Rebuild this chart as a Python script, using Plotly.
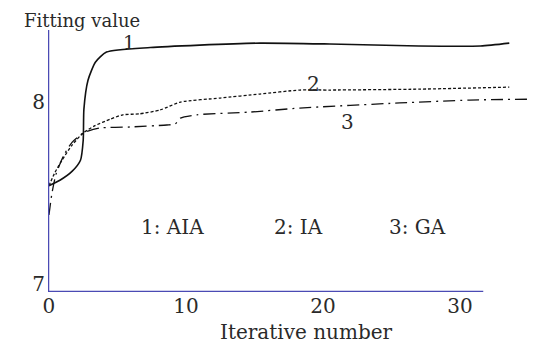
import plotly.graph_objects as go

# Curve 1: AIA (solid)
x_aia = [0, 0.8, 1.7, 2.3, 2.5, 2.55, 2.85, 3.4, 4.2, 7.4, 11, 15.4, 20.5, 27, 31.5, 33.6]
y_aia = [7.54, 7.57, 7.62, 7.68, 7.79, 7.96, 8.12, 8.22, 8.275, 8.30, 8.313, 8.324, 8.319, 8.308, 8.308, 8.324]

# Curve 2: IA (dotted)
x_ia = [0, 0.45, 0.95, 1.7, 2.5, 3.35, 4.45, 5.4, 6.6, 8.1, 9.6, 12.5, 15.4, 18.3, 20.5, 27.1, 33.6]
y_ia = [7.54, 7.615, 7.68, 7.765, 7.83, 7.87, 7.905, 7.93, 7.935, 7.956, 8.0, 8.022, 8.044, 8.066, 8.066, 8.071, 8.082]

# Curve 3: GA (dash-dot)
x_ga = [0, 0.2, 0.5, 1.1, 1.7, 2.5, 3.7, 5.9, 8.6, 9.2, 9.6, 10.8, 14.7, 18.3, 25.6, 30.7, 35.5]
y_ga = [7.38, 7.49, 7.60, 7.71, 7.78, 7.83, 7.857, 7.863, 7.874, 7.879, 7.912, 7.93, 7.945, 7.967, 7.995, 8.011, 8.016]

x_ticks = [0, 10, 20, 30]
y_ticks = [7, 8]
legend_texts = ["1: AIA", "2: IA", "3: GA"]

FONT = "DejaVu Serif, Liberation Serif, serif"
AXIS_COLOR = "#4a4ab4"
TXT = "#2a2a2a"
FS = 20

fig = go.Figure()
fig.add_trace(go.Scatter(x=x_aia, y=y_aia, mode="lines",
                         line=dict(color="#111111", width=1.6, shape="spline", smoothing=0.6)))
fig.add_trace(go.Scatter(x=x_ia, y=y_ia, mode="lines",
                         line=dict(color="#111111", width=1.3, dash="3px,2px", shape="spline", smoothing=0.6)))
fig.add_trace(go.Scatter(x=x_ga, y=y_ga, mode="lines",
                         line=dict(color="#111111", width=1.3, dash="12px,5px,2px,5px", shape="spline", smoothing=0.6)))

YB, YT = 6.956, 8.396
XL, XR = -0.07, 35.55

# x-axis line (shorter than plot area)
fig.add_shape(type="line", xref="x", yref="y", x0=XL, x1=31.7, y0=YB, y1=YB,
              line=dict(color=AXIS_COLOR, width=2.5))
# y-axis line
fig.add_shape(type="line", xref="x", yref="y", x0=XL, x1=XL, y0=YB, y1=YT,
              line=dict(color=AXIS_COLOR, width=2.5))

# curve labels
fig.add_annotation(x=5.85, y=8.33, text="1", showarrow=False, font=dict(family=FONT, size=19, color=TXT))
fig.add_annotation(x=19.3, y=8.10, text="2", showarrow=False, font=dict(family=FONT, size=FS, color=TXT))
fig.add_annotation(x=21.8, y=7.89, text="3", showarrow=False, font=dict(family=FONT, size=FS, color=TXT))

# legend-like texts
for xv, t in zip([9.0, 18.2, 26.9], legend_texts):
    fig.add_annotation(x=xv, y=7.313, text=t, showarrow=False, xanchor="center",
                       font=dict(family=FONT, size=FS, color=TXT))

# axis titles
fig.add_annotation(xref="paper", yref="paper", x=(82 - 48) / 488, y=1, xanchor="center", yanchor="top",
                   text="Fitting value", showarrow=False, font=dict(family=FONT, size=18, color=TXT),
                   yshift=22)
fig.add_annotation(xref="x", yref="paper", x=18.8, y=0, xanchor="center", yanchor="middle",
                   text="Iterative number", showarrow=False, font=dict(family=FONT, size=FS, color=TXT),
                   yshift=-40)

fig.update_layout(
    width=528, height=335,
    margin=dict(l=40, r=0, t=22, b=51),
    paper_bgcolor="white", plot_bgcolor="white",
    showlegend=False,
    font=dict(family=FONT, size=FS, color=TXT),
)
fig.update_xaxes(range=[XL, XR], tickvals=x_ticks, showgrid=False, zeroline=False,
                 showline=False, ticks="", ticklabelstandoff=0, automargin=False)
fig.update_yaxes(range=[YB, YT], tickvals=y_ticks, showgrid=False, zeroline=False,
                 showline=False, ticks="", ticklabelstandoff=2, automargin=False)

fig.write_html("out.html")
